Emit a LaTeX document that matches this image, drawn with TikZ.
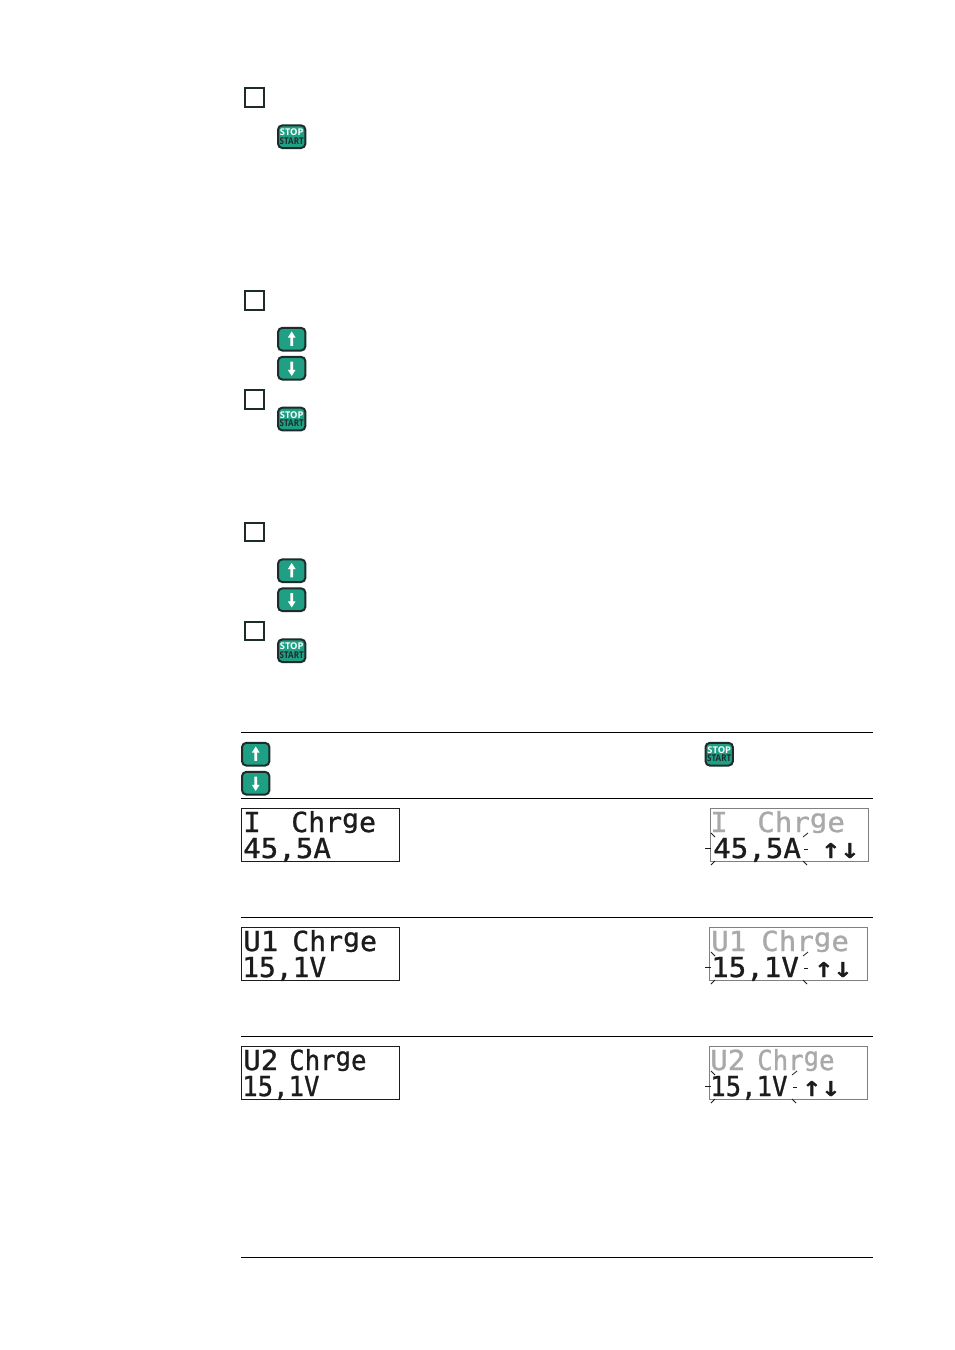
\documentclass[tikz,border=0pt]{standalone}
\usepackage{fontspec}
\setmainfont{Open Sans}
\newfontfamily\lcdfont[FakeBold=0.9]{DejaVu Sans Mono}
\newfontfamily\arrowfont[FakeBold=1.6]{DejaVu Sans Mono}
\definecolor{btngreen}{HTML}{1FA084}
\definecolor{btnedge}{HTML}{1E2B2B}
\definecolor{dimtext}{HTML}{A9A9A9}
\definecolor{lcdink}{HTML}{1C1C1C}
\newcommand{\lcdg}{\raisebox{0.16em}{\scalebox{1}[0.93]{g}}}
\newcommand{\lcdtext}[2][1.055]{\scalebox{#1}[1]{\fontsize{20.7pt}{20.7pt}\selectfont\lcdfont #2}}
\newcommand{\lcdarr}[1]{\scalebox{1.15}[1]{\fontsize{20.7pt}{20.7pt}\selectfont\arrowfont #1}}
\tikzset{
  x=0.75pt,y=-0.75pt,
  checkbox/.style={draw=btnedge,line width=1.5pt,fill=white,minimum width=14pt,minimum height=14pt,inner sep=0pt},
  btn/.style={draw=btnedge,fill=btngreen,line width=1.5pt,rounded corners=3.2pt,minimum width=20.5pt,minimum height=17pt,inner sep=0pt},
  stopbtn/.style={btn,align=center,font=\fontsize{7pt}{6.8pt}\selectfont\bfseries},
  rulewidth/.style={line width=0.9pt,black},
  lcdbox/.style={draw=lcdink,line width=0.6pt,minimum width=118.5pt,minimum height=39.5pt,inner sep=0pt,anchor=north west},
  lcdstr/.style={anchor=base west,inner sep=0pt,text=lcdink},
  lcddim/.style={lcdstr,text=dimtext},
  flash/.style={line width=0.6pt,lcdink},
}
\newcommand{\upbtn}[3]{\node[btn] (#1) at (#2,#3) {};
  \fill[white] ([yshift=5.8pt]#1.center) -- ++(-2.9pt,-4.6pt) -- ++(1.9pt,0) -- ++(0,-6.2pt) -- ++(2pt,0) -- ++(0,6.2pt) -- ++(1.9pt,0) -- cycle;}
\newcommand{\downbtn}[3]{\node[btn] (#1) at (#2,#3) {};
  \fill[white] ([yshift=-5.8pt]#1.center) -- ++(-2.9pt,4.6pt) -- ++(1.9pt,0) -- ++(0,6.2pt) -- ++(2pt,0) -- ++(0,-6.2pt) -- ++(1.9pt,0) -- cycle;}
\newcommand{\startbtn}[3]{\node[stopbtn] (#1) at (#2,#3) {\textcolor{white}{STOP}\\[-0.6pt]\scalebox{0.86}[1]{\textcolor{btnedge}{START}}};}
\newcommand{\flashmarks}[3]{% left x, right x, top y of lower line region
  \draw[flash] (#1+1,#3+25) -- ++(4,4);
  \draw[flash] (#1-5,#3+40.5) -- ++(6,0);
  \draw[flash] (#1+1,#3+57) -- ++(4,-4);
  \draw[flash] (#2-4,#3+29) -- ++(5,-4);
  \draw[flash] (#2-3,#3+41) -- ++(4,0);
  \draw[flash] (#2-4,#3+53) -- ++(4,4);
}
\begin{document}
\begin{tikzpicture}
\useasboundingbox (0,0) rectangle (954,1350);
\fill[white] (0,0) rectangle (954,1350);
% check boxes
\node[checkbox] (c1) at (254.5,97.5) {};
\node[checkbox] (c2) at (254.5,300.5) {};
\node[checkbox] (c3) at (254.5,399.5) {};
\node[checkbox] (c4) at (254.5,532) {};
\node[checkbox] (c5) at (254.5,631) {};
% buttons
\startbtn{s1}{291.7}{136.7}
\upbtn{u1}{291.7}{339.2}
\downbtn{d1}{291.7}{368.2}
\startbtn{s2}{291.7}{419}
\upbtn{u2}{291.7}{570.7}
\downbtn{d2}{291.7}{599.7}
\startbtn{s3}{291.7}{650.7}
\upbtn{u3}{255.7}{754.2}
\downbtn{d3}{255.7}{783.2}
\startbtn{s4}{719.2}{754.2}
% rules
\foreach \yy in {732.5,798.5,917.5,1036.5,1257.5}
  \draw[rulewidth] (241,\yy) -- (873,\yy);
% left displays
\node[lcdbox] (la) at (241.3,808.3) {};
\node[lcdbox] (lb) at (241.3,927.3) {};
\node[lcdbox] (lc) at (241.3,1046) {};
\node[lcdstr] (la1) at (243,832) {\lcdtext{I}};
\node[lcdstr] (la2) at (291,832) {\lcdtext[1.02]{Chr\lcdg e}};
\node[lcdstr] (la3) at (243,858) {\lcdtext{45,5A}};
\node[lcdstr] (lb1) at (243,951) {\lcdtext{U1}};
\node[lcdstr] (lb2) at (292,951) {\lcdtext[1.02]{Chr\lcdg e}};
\node[lcdstr] (lb3) at (242,977) {\lcdtext[1.01]{15,1V}};
\node[lcdstr] (lc1) at (243,1070) {\lcdtext{U2}};
\node[lcdstr] (lc2) at (289,1070) {\lcdtext[0.93]{Chr\lcdg e}};
\node[lcdstr] (lc3) at (242,1096) {\lcdtext[0.93]{15,1V}};
% right displays
\node[lcdbox,draw=gray] (ra) at (709.8,808.3) {};
\node[lcdbox,draw=gray] (rb) at (709.3,927.3) {};
\node[lcdbox,draw=gray] (rc) at (709.3,1046) {};
\node[lcddim] (ra1) at (710,832) {\lcdtext{I}};
\node[lcddim] (ra2) at (757,832) {\lcdtext{Chr\lcdg e}};
\node[lcdstr] (ra3) at (713,858) {\lcdtext{45,5A}};
\node[lcdstr] (ra4) at (821,858) {\lcdarr{↑↓}};
\node[lcddim] (rb1) at (711,951) {\lcdtext{U1}};
\node[lcddim] (rb2) at (761,951) {\lcdtext{Chr\lcdg e}};
\node[lcdstr] (rb3) at (711,977) {\lcdtext{15,1V}};
\node[lcdstr] (rb4) at (814,977) {\lcdarr{↑↓}};
\node[lcddim] (rc1) at (710,1070) {\lcdtext{U2}};
\node[lcddim] (rc2) at (757,1070) {\lcdtext[0.93]{Chr\lcdg e}};
\node[lcdstr] (rc3) at (710,1096) {\lcdtext[0.93]{15,1V}};
\node[lcdstr] (rc4) at (802,1096) {\lcdarr{↑↓}};
\flashmarks{710}{807}{808}
\flashmarks{710}{807}{927}
\flashmarks{710}{796}{1046}
\end{tikzpicture}
\end{document}
